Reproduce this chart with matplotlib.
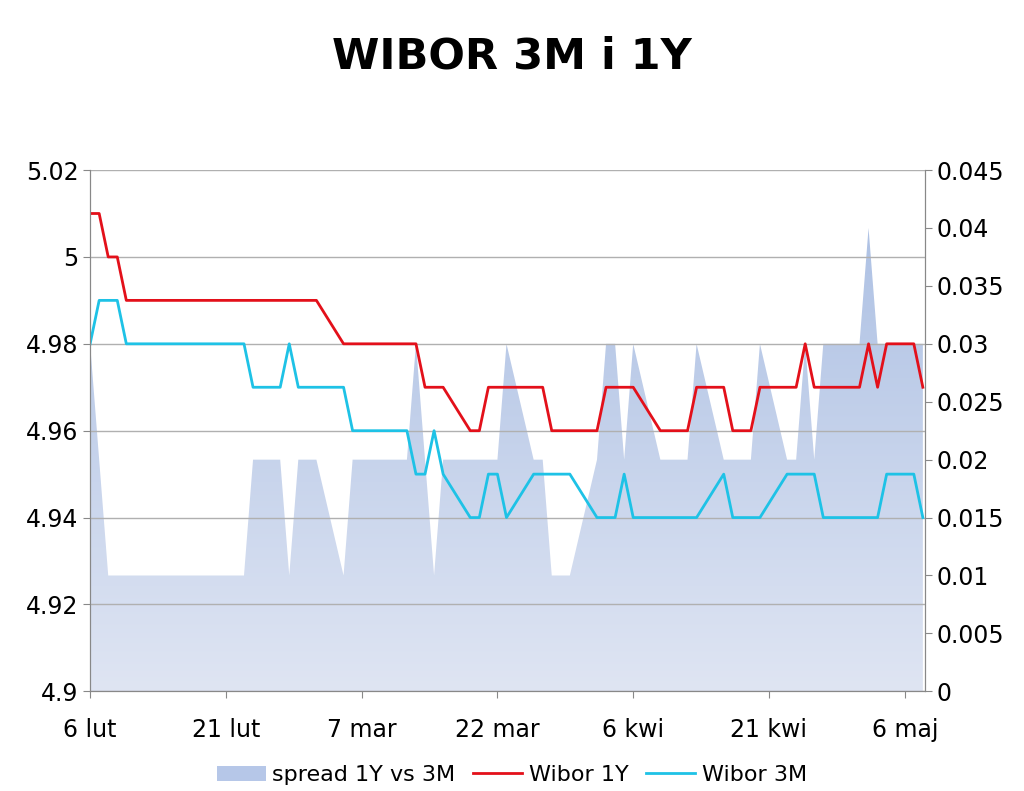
import numpy as np
import pandas as pd
import matplotlib
matplotlib.use("Agg")
import matplotlib.pyplot as plt
import matplotlib.dates as mdates
from matplotlib.colors import LinearSegmentedColormap
from matplotlib.patches import Patch

dates = pd.bdate_range("2012-02-06", "2012-05-08")
wibor_1y = [5.01, 5.01, 5.00, 5.00, 4.99,
            4.99, 4.99, 4.99, 4.99, 4.99,
            4.99, 4.99, 4.99, 4.99, 4.99,
            4.99, 4.99, 4.99, 4.99, 4.99,
            4.98, 4.98, 4.98, 4.98, 4.98,
            4.98, 4.98, 4.97, 4.97, 4.97,
            4.96, 4.96, 4.97, 4.97, 4.97,
            4.97, 4.97, 4.96, 4.96, 4.96,
            4.96, 4.97, 4.97, 4.97, 4.97,
            4.96, 4.96, 4.96, 4.96, 4.97,
            4.97, 4.96, 4.96, 4.96, 4.97,
            4.97, 4.97, 4.98, 4.97, 4.97,
            4.97, 4.97, 4.98, 4.97, 4.98,
            4.98, 4.97]
wibor_3m = [4.98, 4.99, 4.99, 4.99, 4.98,
            4.98, 4.98, 4.98, 4.98, 4.98,
            4.98, 4.98, 4.98, 4.98, 4.97,
            4.97, 4.98, 4.97, 4.97, 4.97,
            4.97, 4.96, 4.96, 4.96, 4.96,
            4.96, 4.95, 4.95, 4.96, 4.95,
            4.94, 4.94, 4.95, 4.95, 4.94,
            4.95, 4.95, 4.95, 4.95, 4.95,
            4.94, 4.94, 4.94, 4.95, 4.94,
            4.94, 4.94, 4.94, 4.94, 4.94,
            4.95, 4.94, 4.94, 4.94, 4.94,
            4.95, 4.95, 4.95, 4.95, 4.94,
            4.94, 4.94, 4.94, 4.94, 4.95,
            4.95, 4.94]
spread = np.round(np.array(wibor_1y) - np.array(wibor_3m), 3)

tick_dates = ["2012-02-06", "2012-02-21", "2012-03-07", "2012-03-22",
              "2012-04-06", "2012-04-21", "2012-05-06"]
tick_labels = ["6 lut", "21 lut", "7 mar", "22 mar", "6 kwi", "21 kwi", "6 maj"]

fig = plt.figure(figsize=(10.24, 7.91), dpi=100)
ax = fig.add_axes([0.088, 0.126, 0.815, 0.659])
ax2 = ax.twinx()
ax.set_zorder(2)
ax.patch.set_visible(False)

x = mdates.date2num(dates)
xmin, xmax = x[0], x[-1] + 0.2
poly = ax2.fill_between(x, 0, spread, color="none", lw=0)
cmap = LinearSegmentedColormap.from_list("g", ["#dfe5f3", "#a8bde2"])
grad = np.linspace(0, 1, 256).reshape(-1, 1)
im = ax2.imshow(grad, cmap=cmap, aspect="auto", origin="lower",
                extent=[xmin, xmax, 0, 0.045], zorder=1)
im.set_clip_path(poly.get_paths()[0], transform=ax2.transData)
ax2.set_ylim(0, 0.045)
ax2.set_yticks(np.arange(0, 0.0451, 0.005))
ax2.set_yticklabels(["0", "0.005", "0.01", "0.015", "0.02", "0.025",
                     "0.03", "0.035", "0.04", "0.045"])

ax.plot(x, wibor_1y, color="#e3101a", lw=2, label="Wibor 1Y")
ax.plot(x, wibor_3m, color="#1ec2e6", lw=2, label="Wibor 3M")
ax.set_ylim(4.9, 5.02)
ax.set_yticks(np.arange(4.9, 5.021, 0.02))
ax.set_yticklabels(["4.9", "4.92", "4.94", "4.96", "4.98", "5", "5.02"])
ax.yaxis.grid(True, color="#b0b0b0", lw=1)
ax.set_axisbelow(True)
ax.set_xlim(xmin, xmax)
ax.set_xticks(mdates.date2num(pd.to_datetime(tick_dates)))
ax.set_xticklabels(tick_labels)

for a in (ax, ax2):
    a.spines["top"].set_visible(False)
    for s in ("left", "right", "bottom"):
        a.spines[s].set_color("#888888")
    a.tick_params(labelsize=17, color="#888888", length=5)
ax.tick_params(axis="x", pad=14)

handles = [Patch(facecolor="#b6c7e8", edgecolor="none", label="spread 1Y vs 3M")] + \
    ax.get_legend_handles_labels()[0]
fig.legend(handles=handles, loc="lower center", ncol=3, frameon=False,
           fontsize=16, bbox_to_anchor=(0.5, -0.018), handlelength=2.2,
           columnspacing=0.8, handletextpad=0.3)
fig.suptitle("WIBOR 3M i 1Y", fontsize=31, fontweight="bold", y=0.955)
fig.savefig("out.png", dpi=100)
